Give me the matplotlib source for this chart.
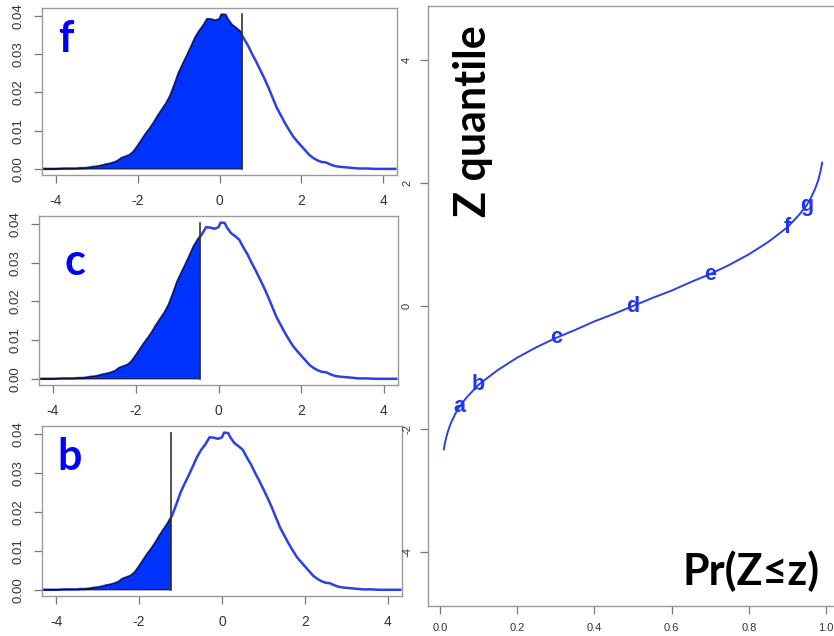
import numpy as np
import matplotlib
matplotlib.use("Agg")
import matplotlib.pyplot as plt

# ---------------- data ----------------
dens_x = [-4.3, -4.0, -3.8, -3.6, -3.5, -3.4, -3.3, -3.2, -3.1, -3.0, -2.9, -2.8, -2.7,
          -2.6, -2.5, -2.4, -2.3, -2.2, -2.1, -2.0, -1.9, -1.8, -1.7, -1.6, -1.5, -1.4,
          -1.3, -1.2, -1.1, -1.0, -0.9, -0.8, -0.7, -0.6, -0.5, -0.4, -0.3, -0.2, -0.1,
          0.0, 0.05, 0.15, 0.2, 0.3, 0.4, 0.5, 0.6, 0.7, 0.8, 0.9, 1.0, 1.1, 1.2, 1.3,
          1.4, 1.5, 1.6, 1.7, 1.8, 1.9, 2.0, 2.1, 2.2, 2.3, 2.4, 2.5, 2.6, 2.7, 2.8, 2.9,
          3.0, 3.1, 3.2, 3.3, 3.4, 3.5, 3.6, 3.8, 4.0, 4.3]
dens_y = [0.0000, 0.0000, 0.0001, 0.0001, 0.0001, 0.0002, 0.0002, 0.0003, 0.0005, 0.0006,
          0.0008, 0.0011, 0.0013, 0.0016, 0.0020, 0.0028, 0.0032, 0.0036, 0.0045, 0.0060,
          0.0076, 0.0092, 0.0106, 0.0122, 0.0140, 0.0156, 0.0172, 0.0192, 0.0220, 0.0250,
          0.0273, 0.0295, 0.0318, 0.0342, 0.0360, 0.0374, 0.0392, 0.0391, 0.0388, 0.0392,
          0.0404, 0.0403, 0.0392, 0.0377, 0.0369, 0.0360, 0.0340, 0.0322, 0.0300, 0.0280,
          0.0258, 0.0236, 0.0212, 0.0186, 0.0160, 0.0140, 0.0120, 0.0102, 0.0085, 0.0072,
          0.0060, 0.0048, 0.0036, 0.0028, 0.0022, 0.0018, 0.0017, 0.0012, 0.0008, 0.0006,
          0.0005, 0.0004, 0.0003, 0.0002, 0.0001, 0.0001, 0.0001, 0.0000, 0.0000, 0.0000]

panel_labels = ["f", "c", "b"]
panel_cuts = [0.55, -0.45, -1.24]
dens_xticks = [-4, -2, 0, 2, 4]
dens_yticks = [0.00, 0.01, 0.02, 0.03, 0.04]
dens_yticklabels = ["0.00", "0.01", "0.02", "0.03", "0.04"]

q_p = [0.01, 0.0125, 0.015, 0.02, 0.025, 0.03, 0.04, 0.05, 0.07, 0.1, 0.15, 0.2, 0.25, 0.3,
       0.35, 0.4, 0.45, 0.5, 0.55, 0.6, 0.65, 0.7, 0.75, 0.8, 0.85, 0.9, 0.93, 0.95,
       0.96, 0.97, 0.975, 0.98, 0.985, 0.99]
q_z = [-2.33, -2.24, -2.17, -2.05, -1.96, -1.88, -1.75, -1.64, -1.48, -1.28, -1.04, -0.84,
       -0.67, -0.52, -0.39, -0.25, -0.13, 0.00, 0.13, 0.25, 0.39, 0.52, 0.67, 0.84, 1.04,
       1.28, 1.48, 1.64, 1.75, 1.88, 1.96, 2.05, 2.17, 2.33]

point_letters = ["a", "b", "c", "d", "e", "f", "g"]
point_p = [0.05, 0.10, 0.30, 0.50, 0.70, 0.90, 0.95]
point_z = [-1.64, -1.28, -0.52, 0.00, 0.52, 1.28, 1.64]

q_xticks = [0.0, 0.2, 0.4, 0.6, 0.8, 1.0]
q_xticklabels = ["0.0", "0.2", "0.4", "0.6", "0.8", "1.0"]
q_yticks = [-4, -2, 0, 2, 4]

# ---------------- style ----------------
W, H = 834, 636
fig = plt.figure(figsize=(W / 100, H / 100), dpi=100)

def fr(l, t, r, b):
    return [l / W, 1 - b / H, (r - l) / W, (b - t) / H]

frame_col = "#999999"
tick_col = "#777777"
lab_col = "#333333"
line_col = "#2b40e6"
fill_col = "#0033ff"
letter_col = "#0000ff"
tick_font = "Liberation Sans"

def style_axes(ax, xsize, ysize, xpad, ypad):
    for s in ax.spines.values():
        s.set_color(frame_col)
        s.set_linewidth(1.0)
    ax.tick_params(axis="both", direction="out", length=5.5, width=0.9, color=tick_col,
                   labelcolor=lab_col)
    ax.tick_params(axis="x", labelsize=xsize, pad=xpad)
    ax.tick_params(axis="y", labelsize=ysize, pad=ypad, labelrotation=90)
    for lab in ax.get_xticklabels() + ax.get_yticklabels():
        lab.set_fontfamily(tick_font)
    for lab in ax.get_yticklabels():
        lab.set_va("center")

panel_boxes = [(42, 8, 397, 175), (39, 216, 398, 385), (42, 426, 402, 596)]
letter_pos = [(66, 39), (74.5, 262), (69.5, 456.5)]

dx = np.array(dens_x)
dy = np.array(dens_y)
ymax = dy.max()

for box, lab, cut, lp in zip(panel_boxes, panel_labels, panel_cuts, letter_pos):
    ax = fig.add_axes(fr(*box))
    ax.plot(dx, dy, color=line_col, lw=1.8, zorder=2)
    mask = dx <= cut
    yc = np.interp(cut, dx, dy)
    px = np.concatenate([dx[mask], [cut, cut, dx[mask][0]]])
    py = np.concatenate([dy[mask], [yc, 0, 0]])
    ax.fill(px, py, facecolor=fill_col, edgecolor="#101030", lw=0.8, zorder=3)
    ax.plot([cut, cut], [0, ymax], color="#333333", lw=1.2, zorder=4)
    ax.set_xlim(-4.34, 4.34)
    ax.set_ylim(-0.0016, 0.0421)
    ax.set_xticks(dens_xticks)
    ax.set_xticklabels([str(t) for t in dens_xticks])
    ax.set_yticks(dens_yticks)
    ax.set_yticklabels(dens_yticklabels)
    style_axes(ax, 10, 9.5, 8, 7)
    fig.text(lp[0] / W, 1 - lp[1] / H, lab, family=["Lato", "DejaVu Sans"],
             fontweight="bold", fontsize=31, color=letter_col, ha="center", va="center")

# right panel
axq = fig.add_axes(fr(428, 6, 838, 606))
axq.plot(q_p, q_z, color=line_col, lw=1.4)
for l, p, z in zip(point_letters, point_p, point_z):
    axq.text(p, z, l, color="#2236ee", fontsize=15.5, fontweight="bold",
             family=["Liberation Sans", "DejaVu Sans"], ha="center", va="center")
axq.set_xlim(-0.031, 1.031)
axq.set_ylim(-4.878, 4.878)
axq.set_xticks(q_xticks)
axq.set_xticklabels(q_xticklabels)
axq.set_yticks(q_yticks)
axq.set_yticklabels([str(t) for t in q_yticks])
style_axes(axq, 8, 8, 6.5, 6)

fig.text(473 / W, 1 - 121 / H, "Z quantile", family=["Lato", "DejaVu Sans"],
         fontweight="bold", fontsize=31, color="black", rotation=90,
         ha="center", va="center")
fig.text(751 / W, 1 - 585 / H, "Pr(Z≤z)", family=["Lato", "DejaVu Sans"],
         fontweight="bold", fontsize=31, color="black", ha="center", va="baseline")

fig.savefig("out.png", dpi=100)
